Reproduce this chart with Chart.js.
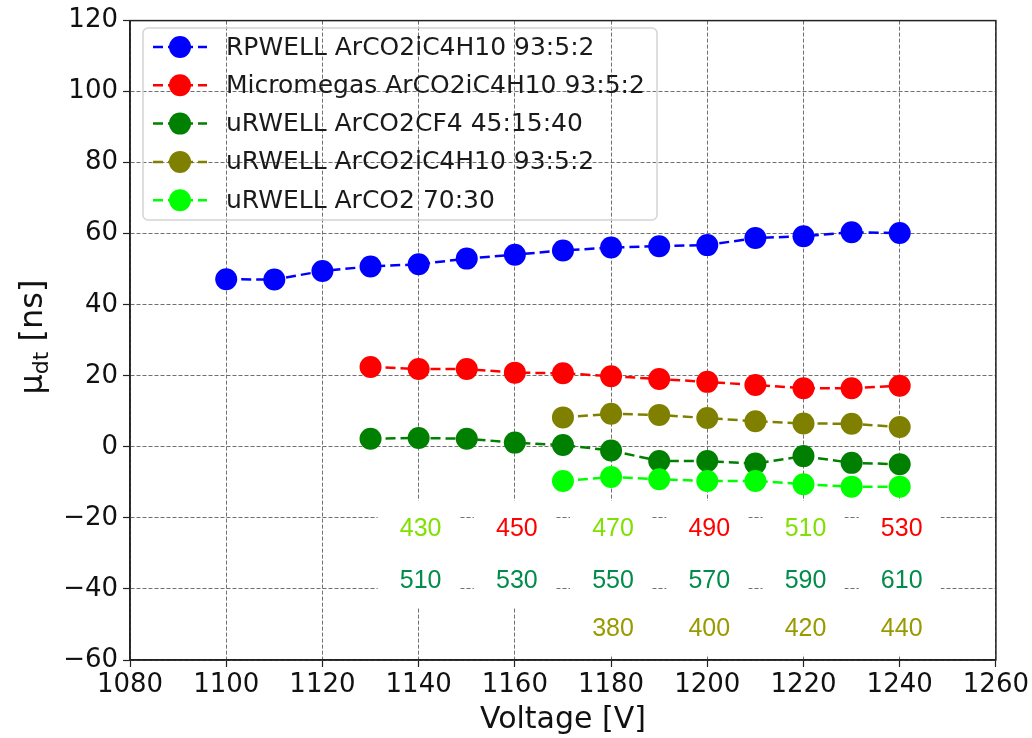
<!DOCTYPE html>
<html>
<head>
<meta charset="utf-8">
<script src="https://cdn.jsdelivr.net/npm/chart.js@4"></script>
<style>
  html, body { margin: 0; padding: 0; background: #fff; }
  #canvas { display: block; }
</style>
</head>
<body>
<canvas id="canvas" width="1032" height="738" style="width:1032px;height:738px"></canvas>
<script>
// drift time mean vs voltage
const voltsRpwell = [1100, 1110, 1120, 1130, 1140, 1150, 1160, 1170, 1180, 1190, 1200, 1210, 1220, 1230, 1240];
const muRpwell = [47.2, 47.1, 49.5, 50.8, 51.4, 53.0, 54.1, 55.3, 56.1, 56.5, 56.8, 58.8, 59.3, 60.4, 60.2];

const voltsMM = [1130, 1140, 1150, 1160, 1170, 1180, 1190, 1200, 1210, 1220, 1230, 1240];
const muMM = [22.5, 21.9, 21.9, 20.9, 20.7, 19.9, 19.1, 18.3, 17.4, 16.5, 16.5, 17.2];

const voltsCF4 = [1130, 1140, 1150, 1160, 1170, 1180, 1190, 1200, 1210, 1220, 1230, 1240];
const muCF4 = [2.3, 2.5, 2.3, 1.2, 0.5, -1.0, -4.0, -4.0, -4.7, -2.6, -4.5, -4.9];

const voltsIso = [1170, 1180, 1190, 1200, 1210, 1220, 1230, 1240];
const muIso = [8.3, 9.3, 9.0, 8.1, 7.2, 6.6, 6.5, 5.6];

const voltsCO2 = [1170, 1180, 1190, 1200, 1210, 1220, 1230, 1240];
const muCO2 = [-9.6, -8.5, -9.1, -9.6, -9.6, -10.5, -11.2, -11.2];

const labels = [
  'RPWELL ArCO2iC4H10 93:5:2',
  'Micromegas ArCO2iC4H10 93:5:2',
  'uRWELL ArCO2CF4 45:15:40',
  'uRWELL ArCO2iC4H10 93:5:2',
  'uRWELL ArCO2 70:30',
];
const colors = ['#0000ff', '#ff0000', '#008000', '#808000', '#00ff00'];

// text labels inside the plot (x in volts, y in ns)
const noteX = [1140, 1160, 1180, 1200, 1220, 1240];
const noteRow1 = ['430', '450', '470', '490', '510', '530'];
const noteRow1Y = -22.8;
const noteRow2 = ['510', '530', '550', '570', '590', '610'];
const noteRow2Y = -37.5;
const noteX3 = [1180, 1200, 1220, 1240];
const noteRow3 = ['380', '400', '420', '440'];
const noteRow3Y = -50.9;

const row1Colors = ['#80e000', '#ff0000', '#80e000', '#ff0000', '#80e000', '#ff0000'];
const row2Color = '#008c4a';
const row3Color = '#999900';

const xTicks = [1080, 1100, 1120, 1140, 1160, 1180, 1200, 1220, 1240, 1260];
const yTicks = [-60, -40, -20, 0, 20, 40, 60, 80, 100, 120];

const toPts = (xs, ys) => xs.map((x, i) => ({ x: x, y: ys[i] }));
const series = [
  toPts(voltsRpwell, muRpwell),
  toPts(voltsMM, muMM),
  toPts(voltsCF4, muCF4),
  toPts(voltsIso, muIso),
  toPts(voltsCO2, muCO2),
];

const TICK_FONT = { family: 'DejaVu Sans', size: 26 };

// white boxed text notes, drawn over the grid but under the data
const notesPlugin = {
  id: 'notes',
  beforeDatasetsDraw(chart) {
    const { ctx, scales } = chart;
    const drawNote = (vx, vy, txt, col) => {
      const px = scales.x.getPixelForValue(vx);
      const py = scales.y.getPixelForValue(vy);
      ctx.fillStyle = '#fff';
      ctx.fillRect(px - 41, py - 27, 82, 54);
      ctx.fillStyle = col;
      ctx.font = '25px "Liberation Sans", Arial, sans-serif';
      ctx.textAlign = 'center';
      ctx.textBaseline = 'middle';
      ctx.fillText(txt, px + 2, py + 1);
    };
    ctx.save();
    noteX.forEach((v, i) => drawNote(v, noteRow1Y, noteRow1[i], row1Colors[i]));
    noteX.forEach((v, i) => drawNote(v, noteRow2Y, noteRow2[i], row2Color));
    noteX3.forEach((v, i) => drawNote(v, noteRow3Y, noteRow3[i], row3Color));
    // frame round the plot
    const a = chart.chartArea;
    ctx.strokeStyle = '#222';
    ctx.lineWidth = 1.5;
    ctx.strokeRect(a.left, a.top, a.right - a.left, a.bottom - a.top);
    ctx.restore();
  },
};

// legend with line + marker, and y title with subscript
const extrasPlugin = {
  id: 'extras',
  afterDraw(chart) {
    const { ctx } = chart;
    ctx.save();
    // legend box
    const bx = 143, by = 28, bw = 514, bh = 192, r = 5;
    ctx.beginPath();
    ctx.roundRect(bx, by, bw, bh, r);
    ctx.strokeStyle = '#d4d4d4';
    ctx.lineWidth = 1.5;
    ctx.stroke();
    chart.data.datasets.forEach((ds, i) => {
      const cy = 47 + i * 38.3;
      ctx.strokeStyle = ds.borderColor;
      ctx.lineWidth = 2.5;
      ctx.setLineDash([10, 5]);
      ctx.beginPath();
      ctx.moveTo(153, cy);
      ctx.lineTo(207, cy);
      ctx.stroke();
      ctx.setLineDash([]);
      ctx.fillStyle = ds.backgroundColor;
      ctx.beginPath();
      ctx.arc(180, cy, 11, 0, Math.PI * 2);
      ctx.fill();
      ctx.fillStyle = '#1a1a1a';
      ctx.font = '25px "DejaVu Sans"';
      ctx.textAlign = 'left';
      ctx.textBaseline = 'middle';
      ctx.fillText(ds.label, 226, cy + 1);
    });

    // y axis title: mu_dt [ns]
    ctx.translate(31, 337);
    ctx.rotate(-Math.PI / 2);
    ctx.fillStyle = '#111';
    ctx.textBaseline = 'alphabetic';
    ctx.textAlign = 'left';
    const big = '32px "DejaVu Sans"';
    const small = '22px "DejaVu Sans"';
    ctx.font = big;
    const w1 = ctx.measureText('\u03bc').width;
    ctx.font = small;
    const w2 = ctx.measureText('dt').width;
    ctx.font = big;
    const w3 = ctx.measureText(' [ns]').width;
    let x0 = -(w1 + w2 + w3) / 2;
    const base = 11;
    ctx.fillText('\u03bc', x0, base);
    ctx.font = small;
    ctx.fillText('dt', x0 + w1, base + 6);
    ctx.font = big;
    ctx.fillText(' [ns]', x0 + w1 + w2, base);
    ctx.restore();
  },
};

const fmt = (v) => (v < 0 ? '\u2212' + Math.abs(v) : String(v));

new Chart(document.getElementById('canvas'), {
  type: 'line',
  data: {
    datasets: series.map((pts, i) => ({
      label: labels[i],
      data: pts,
      borderColor: colors[i],
      backgroundColor: colors[i],
      borderWidth: 2.5,
      borderDash: [10, 5],
      pointRadius: 11,
      pointHoverRadius: 11,
      pointBorderWidth: 0,
      pointBackgroundColor: colors[i],
      tension: 0,
      fill: false,
      order: 4 - i,
    })),
  },
  options: {
    responsive: false,
    animation: false,
    devicePixelRatio: 1,
    layout: { padding: { top: 16, right: 35, left: 0, bottom: 0 } },
    plugins: {
      legend: { display: false },
      tooltip: { enabled: false },
    },
    scales: {
      x: {
        type: 'linear',
        min: 1080,
        max: 1260,
        afterFit: (s) => { s.height = 78; },
        afterBuildTicks: (s) => { s.ticks = xTicks.map((v) => ({ value: v })); },
        ticks: { font: TICK_FONT, color: '#111', padding: 3, maxRotation: 0, callback: fmt },
        grid: { color: '#707070', lineWidth: 1, tickLength: 7, tickColor: '#222', tickWidth: 1.2, tickBorderDash: [] },
        border: { display: true, color: '#222', width: 1.5, dash: [4, 2] },
        title: {
          display: true,
          text: 'Voltage [V]',
          font: { family: 'DejaVu Sans', size: 30 },
          color: '#111',
          padding: { top: 0, bottom: 0 },
        },
      },
      y: {
        type: 'linear',
        min: -60,
        max: 120,
        afterFit: (s) => { s.width = 130; },
        afterBuildTicks: (s) => { s.ticks = yTicks.map((v) => ({ value: v })); },
        ticks: { font: TICK_FONT, color: '#111', padding: 5, callback: fmt },
        grid: { color: '#707070', lineWidth: 1, tickLength: 7, tickColor: '#222', tickWidth: 1.2, tickBorderDash: [] },
        border: { display: true, color: '#222', width: 1.5, dash: [4, 2] },
      },
    },
  },
  plugins: [notesPlugin, extrasPlugin],
});
</script>
</body>
</html>
